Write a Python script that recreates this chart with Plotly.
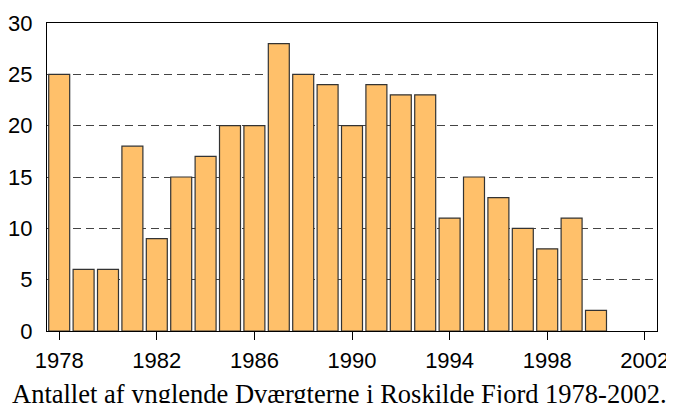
import plotly.graph_objects as go

years = list(range(1978, 2001))
counts = [25, 6, 6, 18, 9, 15, 17, 20, 20, 28, 25, 24, 20, 24, 23, 23, 11, 15, 13, 10, 8, 11, 2]
x_ticks = [1978, 1982, 1986, 1990, 1994, 1998, 2002]
y_ticks = [0, 5, 10, 15, 20, 25, 30]
caption = "Antallet af ynglende Dværgterne i Roskilde Fjord 1978-2002."

fig = go.Figure()
fig.add_trace(go.Bar(
    x=years, y=counts, width=0.86,
    marker=dict(color="#FFC06A", line=dict(color="#333333", width=1.2)),
))

fig.update_layout(
    width=674, height=403,
    margin=dict(l=39, r=25, t=15, b=80),
    paper_bgcolor="white", plot_bgcolor="white",
    showlegend=False,
    font=dict(family="Liberation Sans, Arial, sans-serif", size=22, color="black"),
    annotations=[dict(
        text=caption, xref="paper", yref="paper", x=0.479, y=-0.15,
        xanchor="center", yanchor="top", showarrow=False,
        font=dict(family="Liberation Serif, Times New Roman, serif", size=26.5, color="black"),
    )],
)
fig.update_xaxes(
    range=[1977.5, 2002.5], tickvals=x_ticks, ticktext=[str(t) for t in x_ticks],
    ticks="outside", ticklen=8, tickwidth=1, tickcolor="black",
    showline=True, linecolor="black", linewidth=1, mirror=True,
    showgrid=False, zeroline=False, ticklabelstandoff=2, automargin=False,
)
fig.update_yaxes(
    range=[0, 30], tickvals=y_ticks,
    ticks="", showline=True, linecolor="black", linewidth=1, mirror=True,
    showgrid=True, gridcolor="#444444", griddash="8px,5px", gridwidth=1,
    zeroline=False, ticklabelstandoff=9, automargin=False,
)
fig.write_html("out.html")
